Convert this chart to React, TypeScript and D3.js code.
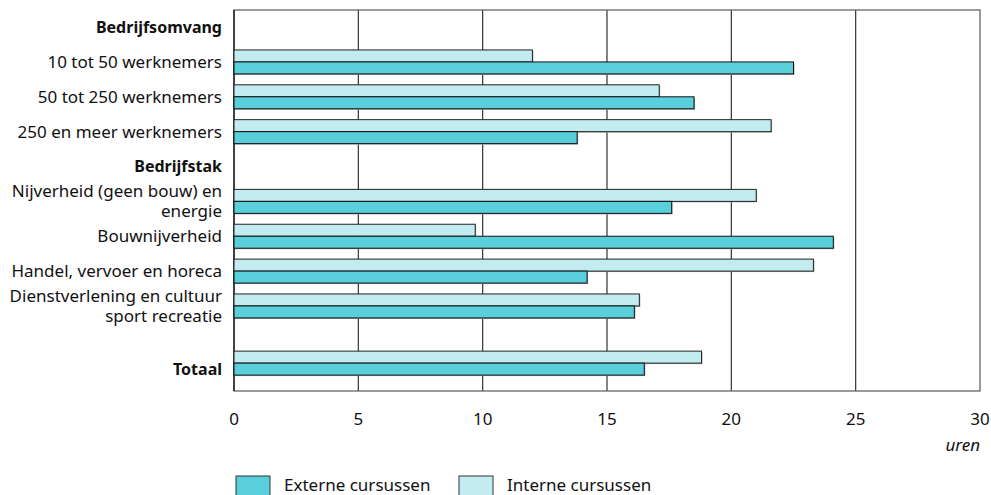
import React from "react";
import * as d3 from "d3";

const categories = [
  "Bedrijfsomvang",
  "10 tot 50 werknemers",
  "50 tot 250 werknemers",
  "250 en meer werknemers",
  "Bedrijfstak",
  "Nijverheid (geen bouw) en\nenergie",
  "Bouwnijverheid",
  "Handel, vervoer en horeca",
  "Dienstverlening en cultuur\nsport recreatie",
  "Totaal",
];
const headers = ["Bedrijfsomvang", "Bedrijfstak", "Totaal"];
const interne: (number | null)[] = [null, 12.0, 17.1, 21.6, null, 21.0, 9.7, 23.3, 16.3, 18.8];
const externe: (number | null)[] = [null, 22.5, 18.5, 13.8, null, 17.6, 24.1, 14.2, 16.1, 16.5];
const xTicks = [0, 5, 10, 15, 20, 25, 30];
const seriesNames = ["Externe cursussen", "Interne cursussen"];

const W = 991;
const H = 495;
const FONT = "'Noto Sans', 'Open Sans', sans-serif";
const FS = 17;
const DARK = "#5ACFDC";
const LIGHT = "#C2ECF0";

export default function App() {
  const x = d3.scaleLinear().domain([0, 30]).range([234, 980]);
  // row index: Totaal sits after a partial blank row
  const rowPos = (i: number) => (i === categories.length - 1 ? i - 1 + 1.64 : i);
  const y = d3.scaleLinear().domain([-0.49, 10.44]).range([10, 391]);
  const step = y(1) - y(0);
  const bh = step * 0.344;

  return (
    <svg
      width={W}
      height={H}
      style={{ position: "absolute", left: 0, top: 0, background: "#fff" }}
      fontFamily={FONT}
    >
      {/* gridlines */}
      {xTicks.slice(1, -1).map((t) => (
        <line key={t} x1={x(t)} x2={x(t)} y1={y(-0.49)} y2={y(10.44)} stroke="#333" strokeWidth={1.2} />
      ))}
      {/* frame */}
      <rect x={x(0)} y={y(-0.49)} width={x(30) - x(0)} height={y(10.44) - y(-0.49)} fill="none" stroke="#666" strokeWidth={1.3} />
      <line x1={x(0)} x2={x(0)} y1={y(-0.49)} y2={y(10.44)} stroke="#111" strokeWidth={1.3} />

      {/* bars */}
      {categories.map((c, i) => {
        const cy = y(rowPos(i));
        const vi = interne[i];
        const ve = externe[i];
        return (
          <g key={c}>
            {vi != null && (
              <g>
                <rect x={x(0) + 1} y={cy - bh + 1} width={x(vi) - x(0)} height={bh} fill="#aaa" />
                <rect x={x(0)} y={cy - bh} width={x(vi) - x(0)} height={bh} fill={LIGHT} stroke="#222" strokeWidth={1} />
              </g>
            )}
            {ve != null && (
              <g>
                <rect x={x(0) + 1} y={cy + 1} width={x(ve) - x(0)} height={bh} fill="#aaa" />
                <rect x={x(0)} y={cy} width={x(ve) - x(0)} height={bh} fill={DARK} stroke="#111" strokeWidth={1} />
              </g>
            )}
          </g>
        );
      })}

      {/* category labels */}
      {categories.map((c, i) => {
        const lines = c.split("\n");
        const cy = y(rowPos(i)) + (c === "Totaal" ? 6 : 0);
        const bold = headers.includes(c);
        return (
          <text
            key={c}
            x={222}
            textAnchor="end"
            fontSize={bold ? 16 : FS}
            fontWeight={bold ? 700 : 400}
            fill="#111"
          >
            {lines.map((l, k) => (
              <tspan key={k} x={222} y={cy + (k - (lines.length - 1) / 2) * 20} dy="0.35em">
                {l}
              </tspan>
            ))}
          </text>
        );
      })}

      {/* x tick labels */}
      {xTicks.map((t) => (
        <text key={t} x={x(t)} y={425} textAnchor="middle" fontSize={FS} fill="#111">
          {t}
        </text>
      ))}
      <text x={980} y={451} textAnchor="end" fontSize={FS} fontStyle="italic" fill="#111">
        uren
      </text>

      {/* legend */}
      {seriesNames.map((s, k) => {
        const lx = 236 + k * 223;
        return (
          <g key={s}>
            <rect x={lx} y={476} width={34} height={22} fill={k === 0 ? DARK : LIGHT} stroke="#333" strokeWidth={1} />
            <text x={lx + 48} y={491} fontSize={FS} fill="#111">
              {s}
            </text>
          </g>
        );
      })}
    </svg>
  );
}
